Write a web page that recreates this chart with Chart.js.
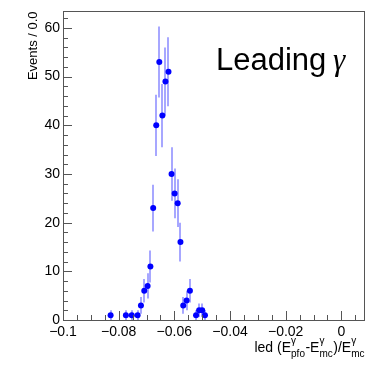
<!DOCTYPE html>
<html><head><meta charset="utf-8">
<script src="https://cdn.jsdelivr.net/npm/chart.js@4/dist/chart.umd.min.js"></script>
<style>html,body{margin:0;padding:0;background:#fff;}#wrap{width:375px;height:376px;position:relative;}</style>
</head><body><div id="wrap"><canvas id="c" width="375" height="376"></canvas></div>
<script>
// ---- data ----
const binCenters = [-0.0829,-0.0774,-0.0753,-0.0732,-0.0720,-0.0708,-0.0696,-0.0686,-0.0676,-0.0665,-0.0654,-0.0643,-0.0632,-0.0621,-0.0610,-0.0599,-0.0588,-0.0578,-0.0568,-0.0556,-0.0544,-0.0522,-0.0511,-0.0500,-0.0490];
const counts     = [1,1,1,1,3,6,7,11,23,40,53,42,49,51,30,26,24,16,3,4,6,1,2,2,1];
const errors     = [1,1,1,1,1.7,2.4,2.6,3.3,4.8,6.3,7.3,6.5,7,7.1,5.5,5.1,4.9,4,1.7,2,2.4,1,1.4,1.4,1];
const xTickValues = [-0.1,-0.08,-0.06,-0.04,-0.02,0];
const xTickLabels = ['\u22120.1','\u22120.08','\u22120.06','\u22120.04','\u22120.02','0'];
const yTickValues = [0,10,20,30,40,50,60];
const yTickLabels = ['0','10','20','30','40','50','60'];
const xRange = [-0.1, 0.0085];
const yRange = [0, 63.4];
const yTitle = 'Events / 0.0';
const plotLabel = 'Leading';
const plotLabelGreek = '\u03b3';

const FONT = '"Liberation Sans", Arial, Helvetica, sans-serif';
const points = binCenters.map((x,i)=>({x:x, y:counts[i], e:errors[i]}));

const rootPlugin = {
  id:'rootStyle',
  beforeDatasetsDraw(chart){
    const ctx = chart.ctx, xs = chart.scales.x, ys = chart.scales.y, a = chart.chartArea;
    ctx.save();
    ctx.beginPath(); ctx.rect(a.left,a.top,a.right-a.left,a.bottom-a.top); ctx.clip();
    ctx.strokeStyle = 'rgba(60,60,255,0.45)';
    ctx.lineWidth = 2;
    points.forEach(p=>{
      const px = Math.round(xs.getPixelForValue(p.x));
      ctx.beginPath();
      ctx.moveTo(px, ys.getPixelForValue(p.y - p.e));
      ctx.lineTo(px, ys.getPixelForValue(p.y + p.e));
      ctx.stroke();
    });
    ctx.restore();
  },
  afterDraw(chart){
    const ctx = chart.ctx, xs = chart.scales.x, ys = chart.scales.y, a = chart.chartArea;
    ctx.save();
    // frame
    ctx.strokeStyle = '#555';
    ctx.lineWidth = 1;
    ctx.strokeRect(Math.round(a.left)+0.5, Math.round(a.top)+0.5, Math.round(a.right-a.left)-1, Math.round(a.bottom-a.top));
    // y ticks (inward)
    ctx.beginPath();
    for(let v=0; v<=yRange[1]; v+=2){
      const py = Math.round(ys.getPixelForValue(v))+0.5;
      const len = (v%10===0)?9:5;
      ctx.moveTo(a.left, py); ctx.lineTo(a.left+len, py);
    }
    // x ticks (inward)
    for(let k=0; ; k++){
      const v = -0.1 + k*0.005;
      if (v > xRange[1]+1e-9) break;
      const px = Math.round(xs.getPixelForValue(v))+0.5;
      const len = (k%4===0)?9:5;
      ctx.moveTo(px, a.bottom); ctx.lineTo(px, a.bottom-len);
    }
    ctx.stroke();

    // x title with sub/superscripts
    const big = '14px '+FONT, small = '10px '+FONT;
    const segs = [
      ['t','led (E'],['ss','\u03b3','pfo'],['t','-E'],['ss','\u03b3','mc'],['t',')/E'],['ss','\u03b3','mc']
    ];
    let total = 0;
    const widths = segs.map(s=>{
      if(s[0]==='t'){ ctx.font=big; return ctx.measureText(s[1]).width; }
      ctx.font=small; return Math.max(ctx.measureText(s[1]).width, ctx.measureText(s[2]).width)+0.5;
    });
    widths.forEach(w=>total+=w);
    let x = 365 - total;
    const base = 352;
    ctx.fillStyle = '#000';
    ctx.textBaseline = 'alphabetic';
    ctx.textAlign = 'left';
    segs.forEach((s,i)=>{
      if(s[0]==='t'){ ctx.font=big; ctx.fillText(s[1], x, base); }
      else { ctx.font=small; ctx.fillText(s[1], x, base-8); ctx.fillText(s[2], x, base+5); }
      x += widths[i];
    });

    // label "Leading γ"
    ctx.font = '31px '+FONT;
    ctx.fillText(plotLabel, 216, 70);
    const w = ctx.measureText(plotLabel+' ').width;
    ctx.font = 'italic 31px "Liberation Serif", "Times New Roman", serif';
    ctx.fillText(plotLabelGreek, 216 + w - 2, 70);
    ctx.restore();
  }
};

new Chart(document.getElementById('c'), {
  type:'scatter',
  data:{ datasets:[{
    data: points,
    pointRadius:3, pointHoverRadius:3,
    backgroundColor:'#0000ff', borderColor:'#0000ff', borderWidth:0,
    showLine:false
  }]},
  options:{
    responsive:false, animation:false, devicePixelRatio:1,
    layout:{ padding:{ top:3, right:10, left:0, bottom:0 } },
    plugins:{ legend:{display:false}, tooltip:{enabled:false} },
    scales:{
      x:{
        type:'linear', position:'bottom', min:xRange[0], max:xRange[1],
        grid:{ display:false, drawTicks:false }, border:{ display:false },
        afterBuildTicks:(s)=>{ s.ticks = xTickValues.map(v=>({value:v})); },
        afterFit:(s)=>{ s.height = 56; },
        ticks:{ autoSkip:false, maxRotation:0, padding:4, color:'#000',
          font:{ family:FONT, size:14 },
          callback:(v,i)=>xTickLabels[i] }
      },
      y:{
        type:'linear', position:'left', min:yRange[0], max:yRange[1],
        grid:{ display:false, drawTicks:false }, border:{ display:false },
        afterBuildTicks:(s)=>{ s.ticks = yTickValues.map(v=>({value:v})); },
        afterFit:(s)=>{ s.width = 63; },
        ticks:{ autoSkip:false, padding:3, color:'#000',
          font:{ family:FONT, size:14 },
          callback:(v,i)=>yTickLabels[i] },
        title:{ display:true, text:yTitle, align:'end', color:'#000',
          font:{ family:FONT, size:13 }, padding:{ top:26, bottom:0 } }
      }
    }
  },
  plugins:[rootPlugin]
});
</script>
</body></html>
